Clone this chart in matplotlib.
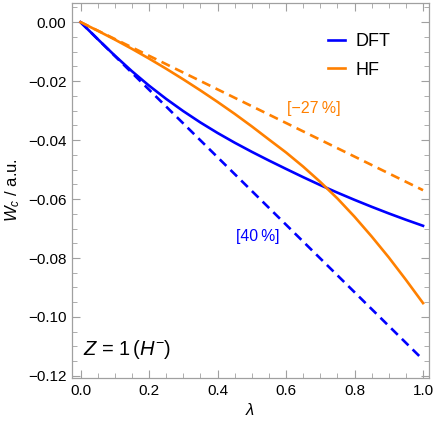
import matplotlib
matplotlib.use("Agg")
import matplotlib.pyplot as plt
from matplotlib.ticker import MultipleLocator, FuncFormatter

plt.rcParams['font.family'] = ['Liberation Sans', 'DejaVu Sans']
plt.rcParams['mathtext.fontset'] = 'custom'
plt.rcParams['mathtext.rm'] = 'Liberation Sans'
plt.rcParams['mathtext.it'] = 'Liberation Sans:italic'

# values
lam = [0.0, 0.05, 0.1, 0.15, 0.2, 0.25, 0.3, 0.35, 0.4, 0.45, 0.5,
       0.55, 0.6, 0.65, 0.7, 0.75, 0.8, 0.85, 0.9, 0.95, 1.0]
w_dft = [0.0, -0.00573, -0.01133, -0.01663, -0.02153, -0.02603, -0.03018,
         -0.03403, -0.03758, -0.04088, -0.04398, -0.04693, -0.04978,
         -0.05258, -0.05528, -0.05783, -0.06028, -0.06263, -0.06488,
         -0.06703, -0.06908]
w_hf = [0.0, -0.0029, -0.0059, -0.00905, -0.01235, -0.0158, -0.0194,
        -0.02315, -0.02705, -0.0311, -0.03535, -0.0398, -0.0442,
        -0.0490, -0.0542, -0.0598, -0.0660, -0.0727, -0.0798,
        -0.0874, -0.0953]
lam_lin = [0.0, 1.0]
w_dft_lin = [0.0, -0.1145]
w_hf_lin = [0.0, -0.057]

blue = '#0000ff'
orange = '#ff8000'
frame = '#a0a0a0'

fig = plt.figure(figsize=(4.36, 4.25), dpi=100)
ax = fig.add_axes([0.165, 0.1106, 0.819, 0.8824])

lw = 1.9
ax.plot(lam_lin, w_dft_lin, color=blue, lw=lw, ls=(0, (3.5, 2.2)))
ax.plot(lam_lin, w_hf_lin, color=orange, lw=lw, ls=(0, (3.5, 2.2)))
ax.plot(lam, w_dft, color=blue, lw=lw, label='DFT')
ax.plot(lam, w_hf, color=orange, lw=lw, label='HF')

ax.set_xlim(-0.025, 1.0175)
ax.set_ylim(-0.1207, 0.0065)

ax.xaxis.set_major_locator(MultipleLocator(0.2))
ax.xaxis.set_minor_locator(MultipleLocator(0.05))
ax.yaxis.set_major_locator(MultipleLocator(0.02))
ax.yaxis.set_minor_locator(MultipleLocator(0.005))
ax.xaxis.set_major_formatter(FuncFormatter(lambda v, p: f'{v:.1f}'))
ax.yaxis.set_major_formatter(
    FuncFormatter(lambda v, p: f'{v:.2f}'.replace('-', '\u2212') if abs(v) > 1e-9 else '0.00'))

ax.tick_params(which='both', direction='in', top=True, right=True,
               color=frame, labelsize=11, labelcolor='black', pad=4)
ax.tick_params(which='major', length=6, width=0.8)
ax.tick_params(which='minor', length=3.5, width=0.6)
ax.tick_params(axis='x', which='both', labeltop=False)
ax.tick_params(axis='y', which='both', labelright=False)
for s in ax.spines.values():
    s.set_color(frame)
    s.set_linewidth(0.9)

ax.set_xlabel(r'$\lambda$', fontsize=12, labelpad=3)
ax.set_ylabel(r'$W_c$ / a.u.', fontsize=12, labelpad=4)

ax.text(0.682, -0.0292, '[\u221227\u2009%]', color=orange, fontsize=11.5,
        ha='center', va='center')
ax.text(0.517, -0.0728, '[40\u2009%]', color=blue, fontsize=11.3,
        ha='center', va='center')
ax.text(0.008, -0.1112, r'$Z$ = 1$\,$($H^{-}$)', fontsize=14.5, ha='left', va='center')

ax.legend(loc='upper left', bbox_to_anchor=(0.717, 0.919), frameon=False,
          borderpad=0, borderaxespad=0,
          fontsize=13, handlelength=0.95, handletextpad=0.55, labelspacing=0.62)

fig.savefig('out.png', dpi=100)
